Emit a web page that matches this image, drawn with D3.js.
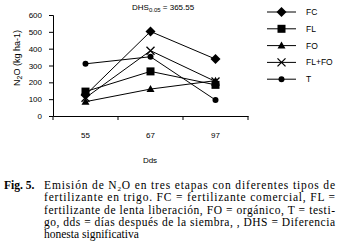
<!DOCTYPE html>
<html>
<head>
<meta charset="utf-8">
<script src="https://cdn.jsdelivr.net/npm/d3@7"></script>
<style>
body { margin: 0; background: #fff; }
.sans { font-family: Arial, "Liberation Sans", sans-serif; }
.serif { font-family: "Liberation Serif", "Times New Roman", serif; }
</style>
</head>
<body>
<script>
var w = 344;
var h = 248;

var days = ["55", "67", "97"];
var fc = [125, 502, 338];
var fl = [145, 265, 185];
var fo = [85, 160, 210];
var flfo = [108, 388, 205];
var testigo = [310, 352, 95];
var yTicks = [0, 100, 200, 300, 400, 500, 600];

var series = [
    { name: "FC", values: fc, shape: "diamond" },
    { name: "FL", values: fl, shape: "square" },
    { name: "FO", values: fo, shape: "triangle" },
    { name: "FL+FO", values: flfo, shape: "cross" },
    { name: "T", values: testigo, shape: "circle" }
];

var captionLines = [
    ["Emisión de N", "2", "O en tres etapas con diferentes tipos de"],
    ["fertilizante en trigo. FC = fertilizante comercial, FL ="],
    ["fertilizante de lenta liberación, FO = orgánico, T = testi-"],
    ["go, dds = días después de la siembra, , DHS = Diferencia"],
    ["honesta significativa"]
];

var svg = d3.select("body")
    .append("svg")
    .attr("width", w)
    .attr("height", h);

var chart = svg.append("g").attr("class", "sans");

var xScale = d3.scaleBand()
    .domain(days)
    .range([53, 248]);

var yScale = d3.scaleLinear()
    .domain([0, 600])
    .range([116, 15]);

var yAxis = d3.axisLeft(yScale).tickValues(yTicks).tickSize(4).tickPadding(7);
var xAxis = d3.axisBottom(xScale).tickSize(0).tickPadding(16);

var gy = chart.append("g")
    .attr("transform", "translate(53,0)")
    .call(yAxis);

var gx = chart.append("g")
    .attr("transform", "translate(0,116)")
    .call(xAxis);

// tick marks at band edges
chart.selectAll(".edge")
    .data([53, 53 + xScale.bandwidth(), 53 + 2 * xScale.bandwidth(), 248])
    .enter()
    .append("line")
    .attr("x1", function (d) { return d; })
    .attr("x2", function (d) { return d; })
    .attr("y1", 116)
    .attr("y2", 120)
    .attr("stroke", "#000");

[gx, gy].forEach(function (g) {
    g.attr("font-family", null);
    g.select(".domain").attr("stroke", "#000");
    g.selectAll("text").attr("font-size", 8).attr("fill", "#000");
});

chart.append("text")
    .attr("x", 150)
    .attr("y", 163)
    .attr("text-anchor", "middle")
    .attr("font-size", 8)
    .text("Dds");

var yl = chart.append("text")
    .attr("transform", "translate(20,58) rotate(-90)")
    .attr("text-anchor", "middle")
    .attr("font-size", 9);
yl.append("tspan").text("N");
yl.append("tspan").attr("font-size", 7).attr("dy", 2).text("2");
yl.append("tspan").attr("dy", -2).text("O (kg ha-1)");

var dhs = chart.append("text")
    .attr("x", 132)
    .attr("y", 10)
    .attr("font-size", 8);
dhs.append("tspan").text("DHS");
dhs.append("tspan").attr("font-size", 6).attr("dy", 2).text("0.05");
dhs.append("tspan").attr("dy", -2).text(" = 365.55");

function marker(g, shape) {
    if (shape === "diamond") {
        g.append("path").attr("d", "M0,-5L5,0L0,5L-5,0Z").attr("fill", "#000");
    } else if (shape === "square") {
        g.append("rect").attr("x", -4).attr("y", -4).attr("width", 8).attr("height", 8).attr("fill", "#000");
    } else if (shape === "triangle") {
        g.append("path").attr("d", "M0,-4L4,3L-4,3Z").attr("fill", "#000");
    } else if (shape === "cross") {
        g.append("path").attr("d", "M-4,-4L4,4M-4,4L4,-4").attr("stroke", "#000").attr("stroke-width", 1.3);
    } else {
        g.append("circle").attr("r", 3).attr("fill", "#000");
    }
}

var line = d3.line()
    .x(function (d, i) { return xScale(days[i]) + xScale.bandwidth() / 2; })
    .y(function (d) { return yScale(d); });

series.forEach(function (s) {
    chart.append("path")
        .attr("d", line(s.values))
        .attr("fill", "none")
        .attr("stroke", "#000")
        .attr("stroke-width", 1);
    s.values.forEach(function (v, i) {
        var g = chart.append("g")
            .attr("transform", "translate(" + (xScale(days[i]) + xScale.bandwidth() / 2) + "," + yScale(v) + ")");
        marker(g, s.shape);
    });
});

// legend
var legend = chart.selectAll(".legend")
    .data(series)
    .enter()
    .append("g")
    .attr("transform", function (d, i) { return "translate(267," + (12 + i * 16.8) + ")"; });

legend.append("line")
    .attr("x1", 0).attr("x2", 29)
    .attr("stroke", "#000");
legend.each(function (d) {
    var g = d3.select(this).append("g").attr("transform", "translate(14.5,0)");
    marker(g, d.shape);
});
legend.append("text")
    .attr("x", 39)
    .attr("y", 3)
    .attr("font-size", 8.5)
    .text(function (d) { return d.name; });

// caption
var cap = svg.append("g").attr("class", "serif");
cap.append("text")
    .attr("x", 4)
    .attr("y", 189)
    .attr("font-size", 11.5)
    .attr("font-weight", "bold")
    .text("Fig. 5.");

cap.selectAll(".cl")
    .data(captionLines)
    .enter()
    .append("text")
    .attr("x", 44)
    .attr("y", function (d, i) { return 189 + i * 12.3; })
    .attr("font-size", 11.5)
    .each(function (d, i) {
        var t = d3.select(this);
        if (i < captionLines.length - 1) {
            t.attr("textLength", 291).attr("lengthAdjust", "spacing");
        }
        d.forEach(function (part, j) {
            var sp = t.append("tspan").text(part);
            if (d.length > 1 && j === 1) sp.attr("font-size", 7).attr("dy", 1.8);
            if (d.length > 1 && j === 2) sp.attr("dy", -1.8);
        });
    });
</script>
</body>
</html>
